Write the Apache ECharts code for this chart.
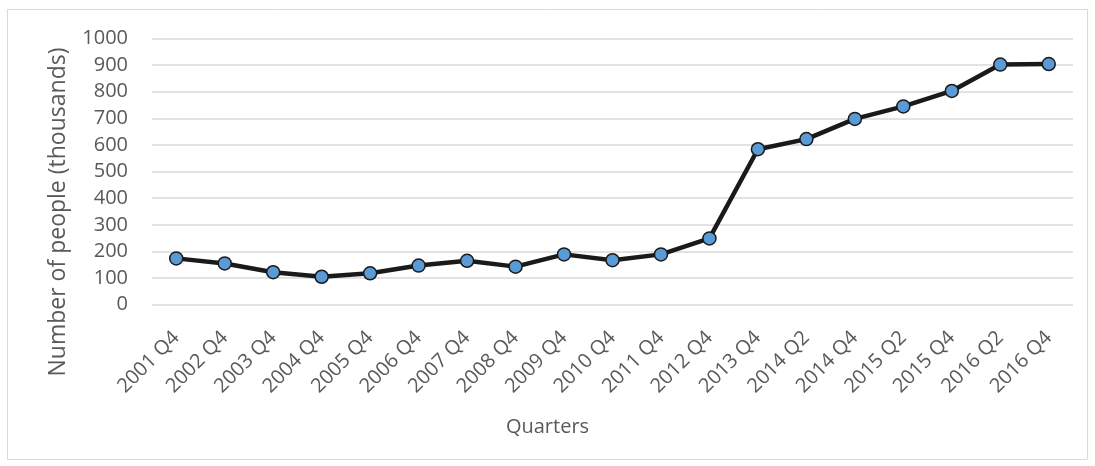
<!DOCTYPE html>
<html>
<head>
<meta charset="utf-8">
<script src="https://cdn.jsdelivr.net/npm/echarts@6/dist/echarts.min.js"></script>
<style>html,body{margin:0;padding:0;background:#fff;}#c{width:1095px;height:466px;}</style>
</head>
<body>
<div id="c"></div>
<script>
var categories = ['2001 Q4','2002 Q4','2003 Q4','2004 Q4','2005 Q4','2006 Q4','2007 Q4','2008 Q4','2009 Q4','2010 Q4','2011 Q4','2012 Q4','2013 Q4','2014 Q2','2014 Q4','2015 Q2','2015 Q4','2016 Q2','2016 Q4'];
var people = [174,155,122,105,118,147,165,143,189,167,189,249,584,622,698,745,803,902,904];
var yTicks = {min: 0, max: 1000, interval: 100};
var yName = 'Number of people (thousands)';
var xName = 'Quarters';

var font = '"Open Sans", sans-serif';
var chart = echarts.init(document.getElementById('c'));
chart.setOption({
  animation: false,
  backgroundColor: '#fff',
  graphic: [{
    type: 'rect', shape: {x: 7.5, y: 9.5, width: 1080, height: 450},
    style: {fill: 'none', stroke: '#d9d9d9', lineWidth: 1}, silent: true
  }, {
    type: 'text', x: 58, y: 212, rotation: Math.PI / 2,
    style: {text: yName, fontFamily: font, fontSize: 23, fill: '#595959', align: 'center', verticalAlign: 'middle'},
    silent: true
  }],
  title: {
    text: xName, left: 'center', top: 412,
    textStyle: {fontFamily: font, fontSize: 20, fontWeight: 'normal', color: '#595959'}
  },
  grid: {left: 152, right: 22, top: 38.5, bottom: 161.3},
  xAxis: {
    type: 'category', data: categories, boundaryGap: true,
    axisLine: {show: false}, axisTick: {show: false},
    axisLabel: {rotate: 45, fontFamily: font, fontSize: 20, color: '#595959', margin: 30}
  },
  yAxis: {
    type: 'value', min: yTicks.min, max: yTicks.max, interval: yTicks.interval,
    axisLine: {show: false}, axisTick: {show: false},
    axisLabel: {fontFamily: font, fontSize: 20, color: '#595959', margin: 24, formatter: function (v) { return String(v); }},
    splitLine: {lineStyle: {color: '#d9d9d9', width: 1.5}}
  },
  series: [{
    type: 'line', data: people,
    symbol: 'circle', symbolSize: 13,
    lineStyle: {color: '#1a1a1a', width: 4.5},
    itemStyle: {color: '#5b9bd5', borderColor: '#1a1a1a', borderWidth: 1.5}
  }]
});
</script>
</body>
</html>
